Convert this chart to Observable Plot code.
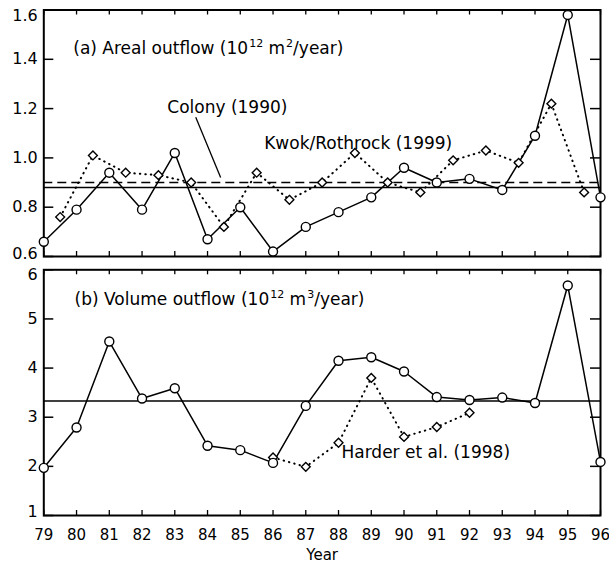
<!DOCTYPE html>
<html>
<head>
<meta charset="utf-8">
<script src="https://cdn.jsdelivr.net/npm/d3@7"></script>
<script src="https://cdn.jsdelivr.net/npm/@observablehq/plot@0.6"></script>
<style>
  html, body { margin: 0; padding: 0; background: white; }
  #chart svg { display: block; overflow: visible; }
</style>
</head>
<body>
<div id="chart"></div>
<script>
// ---- data ----
const years = [79, 80, 81, 82, 83, 84, 85, 86, 87, 88, 89, 90, 91, 92, 93, 94, 95, 96];
const arealModel = [0.66, 0.79, 0.94, 0.79, 1.02, 0.67, 0.80, 0.62, 0.72, 0.78, 0.84, 0.96, 0.90, 0.915, 0.87, 1.09, 1.58, 0.84];
const kwokYears = [79.5, 80.5, 81.5, 82.5, 83.5, 84.5, 85.5, 86.5, 87.5, 88.5, 89.5, 90.5, 91.5, 92.5, 93.5, 94.5, 95.5];
const kwokValues = [0.76, 1.01, 0.94, 0.93, 0.90, 0.72, 0.94, 0.83, 0.90, 1.02, 0.90, 0.86, 0.99, 1.03, 0.98, 1.22, 0.86];
const arealMean = [0.88];
const colonyMean = [0.90];
const volumeModel = [1.97, 2.79, 4.54, 3.38, 3.59, 2.42, 2.33, 2.07, 3.23, 4.15, 4.22, 3.93, 3.41, 3.35, 3.40, 3.29, 5.68, 2.09];
const harderYears = [86, 87, 88, 89, 90, 91, 92];
const harderValues = [2.18, 1.99, 2.48, 3.80, 2.60, 2.80, 3.09];
const volumeMean = [3.33];
const yTicksA = [0.6, 0.8, 1.0, 1.2, 1.4, 1.6];
const yTicksB = [1, 2, 3, 4, 5, 6];

// labels
const titleA = "(a) Areal outflow (10\u00B9\u00B2 m\u00B2/year)";
const titleB = "(b) Volume outflow (10\u00B9\u00B2 m\u00B3/year)";
const colonyLabel = "Colony (1990)";
const kwokLabel = "Kwok/Rothrock (1999)";
const harderLabel = "Harder et al. (1998)";

// annotation anchor points (data coordinates)
const textA = [{x: 79.9, y: 1.443, t: titleA}, {x: 82.77, y: 1.203, t: colonyLabel}, {x: 85.73, y: 1.06, t: kwokLabel}];
const pointerA = [{x1: 83.64, y1: 1.165, x2: 84.40, y2: 0.92}];
const textB = [{x: 79.94, y: 5.39, t: titleB}, {x: 88.09, y: 2.28, t: harderLabel}];

const W = 609;
const ML = 43.3, MR = 9;
const innerW = W - ML - MR;
const font = "DejaVu Sans";
const annSize = 17;

const areal = years.map((x, i) => ({x, y: arealModel[i]}));
const kwok = kwokYears.map((x, i) => ({x, y: kwokValues[i]}));
const volume = years.map((x, i) => ({x, y: volumeModel[i]}));
const harder = harderYears.map((x, i) => ({x, y: harderValues[i]}));

function frameTicks(yTicks, innerH) {
  return [
    Plot.tickY(yTicks, {y: d => d, insetRight: innerW - 10, strokeWidth: 1.5}),
    Plot.tickY(yTicks, {y: d => d, insetLeft: innerW - 10, strokeWidth: 1.5}),
    Plot.tickX(years, {x: d => d, insetBottom: innerH - 5, strokeWidth: 1.3}),
    Plot.tickX(years, {x: d => d, insetTop: innerH - 5, strokeWidth: 1.3}),
    Plot.frame({stroke: "black", strokeWidth: 2})
  ];
}

function yLabels(ticks, fmt, dyTop, dyBottom) {
  const axOpts = {tickSize: 0, tickPadding: 6, tickFormat: fmt, label: null, fontSize: 16};
  return [
    Plot.axisY(ticks.slice(1, -1), axOpts),
    Plot.axisY(ticks.slice(-1), {...axOpts, dy: dyTop}),
    Plot.axisY(ticks.slice(0, 1), {...axOpts, dy: dyBottom})
  ];
}

// turn unicode superscript digits into raised tspans
function superscriptify(svg) {
  const map = {"\u00B9": "1", "\u00B2": "2", "\u00B3": "3"};
  const ns = "http://www.w3.org/2000/svg";
  svg.querySelectorAll("text").forEach(t => {
    const s = t.textContent;
    if (!/[\u00B9\u00B2\u00B3]/.test(s)) return;
    const runs = s.match(/[\u00B9\u00B2\u00B3]+|[^\u00B9\u00B2\u00B3]+/g);
    while (t.firstChild) t.removeChild(t.firstChild);
    let raised = false;
    runs.forEach(r => {
      const ts = document.createElementNS(ns, "tspan");
      const sup = /[\u00B9\u00B2\u00B3]/.test(r);
      if (sup) {
        ts.textContent = [...r].map(c => map[c]).join("");
        ts.setAttribute("font-size", "11");
        ts.setAttribute("dy", "-7");
        ts.setAttribute("dx", "1");
        raised = true;
      } else {
        ts.textContent = r;
        if (raised) { ts.setAttribute("dy", "7"); raised = false; }
      }
      t.appendChild(ts);
    });
  });
}

// ---- top panel ----
const hA = 263, mtA = 9.5, mbA = 7;
const panelA = Plot.plot({
  width: W, height: hA,
  marginLeft: ML, marginRight: MR, marginTop: mtA, marginBottom: mbA,
  style: {fontFamily: font, fontSize: "16px", color: "black", background: "white", overflow: "visible"},
  x: {domain: [79, 96], axis: null},
  y: {domain: [0.6, 1.6]},
  marks: [
    ...yLabels(yTicksA, d3.format(".1f"), 6, -3),
    ...frameTicks(yTicksA, hA - mtA - mbA),
    Plot.ruleY(colonyMean, {stroke: "black", strokeWidth: 1.5, strokeDasharray: "9 5"}),
    Plot.ruleY(arealMean, {stroke: "black", strokeWidth: 1.5}),
    Plot.line(kwok, {x: "x", y: "y", stroke: "black", strokeWidth: 2, strokeDasharray: "0.5 5", strokeLinecap: "round"}),
    Plot.line(areal, {x: "x", y: "y", stroke: "black", strokeWidth: 1.5}),
    Plot.dot(kwok, {x: "x", y: "y", symbol: "diamond2", r: 4, stroke: "black", fill: "white", strokeWidth: 1.4}),
    Plot.dot(areal, {x: "x", y: "y", r: 4.5, stroke: "black", fill: "white", strokeWidth: 1.4}),
    Plot.link(pointerA, {x1: "x1", y1: "y1", x2: "x2", y2: "y2", stroke: "black", strokeWidth: 1.3}),
    Plot.text(textA, {x: "x", y: "y", text: "t", textAnchor: "start", fontSize: annSize, fill: "black"})
  ]
});

// ---- bottom panel ----
const hB = 300, mtB = 6.3, mbB = 48;
const panelB = Plot.plot({
  width: W, height: hB,
  marginLeft: ML, marginRight: MR, marginTop: mtB, marginBottom: mbB,
  style: {fontFamily: font, fontSize: "15px", color: "black", background: "white", overflow: "visible"},
  x: {domain: [79, 96]},
  y: {domain: [1, 6]},
  marks: [
    Plot.axisX(years, {tickSize: 0, tickPadding: 14, tickFormat: d => String(d), label: null, fontSize: 15}),
    ...yLabels(yTicksB, d => String(d), 5, -4),
    ...frameTicks(yTicksB, hB - mtB - mbB),
    Plot.ruleY(volumeMean, {stroke: "black", strokeWidth: 1.5}),
    Plot.line(harder, {x: "x", y: "y", stroke: "black", strokeWidth: 2, strokeDasharray: "0.5 5", strokeLinecap: "round"}),
    Plot.line(volume, {x: "x", y: "y", stroke: "black", strokeWidth: 1.5}),
    Plot.dot(harder, {x: "x", y: "y", symbol: "diamond2", r: 4, stroke: "black", fill: "white", strokeWidth: 1.4}),
    Plot.dot(volume, {x: "x", y: "y", r: 4.5, stroke: "black", fill: "white", strokeWidth: 1.4}),
    Plot.text(textB, {x: "x", y: "y", text: "t", textAnchor: "start", fontSize: annSize, fill: "black"}),
    Plot.text(["Year"], {frameAnchor: "bottom", dy: 44, fontSize: 15, fill: "black"})
  ]
});

superscriptify(panelA);
superscriptify(panelB);
const chart = document.getElementById("chart");
chart.appendChild(panelA);
chart.appendChild(panelB);
</script>
</body>
</html>
